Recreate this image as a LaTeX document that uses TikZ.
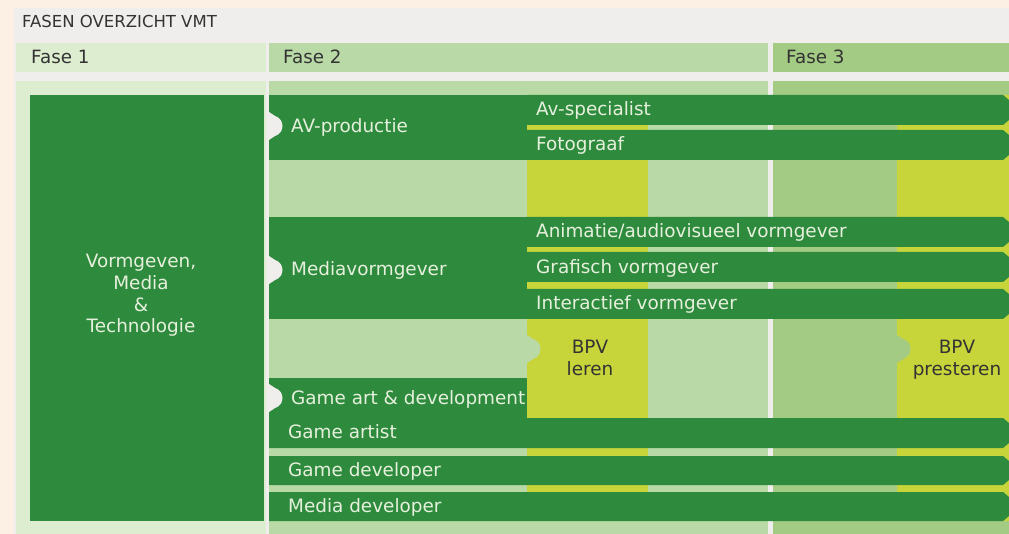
\documentclass[tikz,border=0pt]{standalone}
\usepackage{fontspec}
\setmainfont{DejaVu Sans}
\definecolor{peach}{HTML}{FCEFE4}
\definecolor{panel}{HTML}{F0EEEC}
\definecolor{fone}{HTML}{DDEDD0}
\definecolor{ftwo}{HTML}{B9DAA6}
\definecolor{fthree}{HTML}{A3CB83}
\definecolor{dgreen}{HTML}{2E8B3E}
\definecolor{ylw}{HTML}{C8D53A}
\definecolor{ltxt}{HTML}{E6F0DC}
\definecolor{dtxt}{HTML}{333333}
\tikzset{
  x=1pt, y=-1pt,
  lbl/.style={inner sep=0pt, anchor=base west, text=ltxt, font=\fontsize{18.4}{21}\selectfont},
  hdr/.style={inner sep=0pt, anchor=base west, text=dtxt, font=\fontsize{18.3}{21}\selectfont},
  bpv/.style={inner sep=0pt, anchor=base, align=center, text=dtxt, font=\fontsize{18.4}{22}\selectfont},
}
\newcommand{\jobbar}[3]{% x1, ytop, ybot
  \fill[dgreen] (#1,#2) -- (1003,#2) -- (1009,#2+5) -- (1009,#3-5) -- (1003,#3) -- (#1,#3) -- cycle;}
\newcommand{\notchtab}[3]{% x, ycenter, colour
  \fill[#3] (#1,#2-14) -- (#1+6,#2-10) .. controls (#1+16,#2-7) and (#1+16,#2+7) .. (#1+6,#2+10) -- (#1,#2+14) -- cycle;}
\begin{document}
\begin{tikzpicture}
\useasboundingbox (0,0) rectangle (1009,534);
\fill[peach] (0,0) rectangle (1009,534);
\fill[panel] (14,8) rectangle (1009,534);
\node[hdr, text=dtxt, font=\fontsize{16.5}{19}\selectfont] (title) at (22,28) {FASEN OVERZICHT VMT};
% header row
\fill[fone] (16,43) rectangle (266,72);
\fill[ftwo] (269,43) rectangle (768,72);
\fill[fthree] (773,43) rectangle (1009,72);
\node[hdr] (f1) at (31,64) {Fase 1};
\node[hdr] (f2) at (283,64) {Fase 2};
\node[hdr] (f3) at (786,64) {Fase 3};
% columns
\fill[fone] (16,81) rectangle (266,534);
\fill[ftwo] (269,81) rectangle (768,534);
\fill[fthree] (773,81) rectangle (1009,534);
\fill[ylw] (527,95) rectangle (648,521);
\fill[ylw] (897,95) rectangle (1009,521);
% big box
\fill[dgreen] (30,95) rectangle (264,521);
\node[inner sep=0pt, align=center, text=ltxt, font=\fontsize{18.4}{21.7}\selectfont, anchor=base] (vmt) at (141,333) {Vormgeven,\\Media\\\&\\Technologie};
% AV-productie
\fill[dgreen] (269,95) rectangle (527,160);
\jobbar{527}{95}{125}
\jobbar{527}{130}{160}
\notchtab{269}{126}{panel}
\node[lbl] (avp) at (291,133) {AV-productie};
\node[lbl] (avs) at (536,116) {Av-specialist};
\node[lbl] (foto) at (536,151) {Fotograaf};
% Mediavormgever
\fill[dgreen] (269,217) rectangle (527,319);
\jobbar{527}{217}{247}
\jobbar{527}{252}{282}
\jobbar{527}{289}{319}
\notchtab{269}{270}{panel}
\node[lbl] (mvg) at (291,276) {Mediavormgever};
\node[lbl] (anim) at (536,238) {Animatie/audiovisueel vormgever};
\node[lbl] (graf) at (536,274) {Grafisch vormgever};
\node[lbl] (inter) at (536,310) {Interactief vormgever};
% BPV
\notchtab{527}{349}{ftwo}
\notchtab{897}{349}{fthree}
\node[bpv] (bpvl) at (590,376) {BPV\\leren};
\node[bpv] (bpvp) at (957,376) {BPV\\presteren};
% Game
\fill[dgreen] (269,378) rectangle (527,420);
\jobbar{269}{418}{448}
\jobbar{269}{456}{485}
\jobbar{269}{492}{521}
\notchtab{269}{398}{panel}
\node[lbl] (gad) at (291,404) {Game art \& development};
\node[lbl] (gart) at (288,438) {Game artist};
\node[lbl] (gdev) at (288,476) {Game developer};
\node[lbl] (mdev) at (288,512) {Media developer};
\end{tikzpicture}
\end{document}
